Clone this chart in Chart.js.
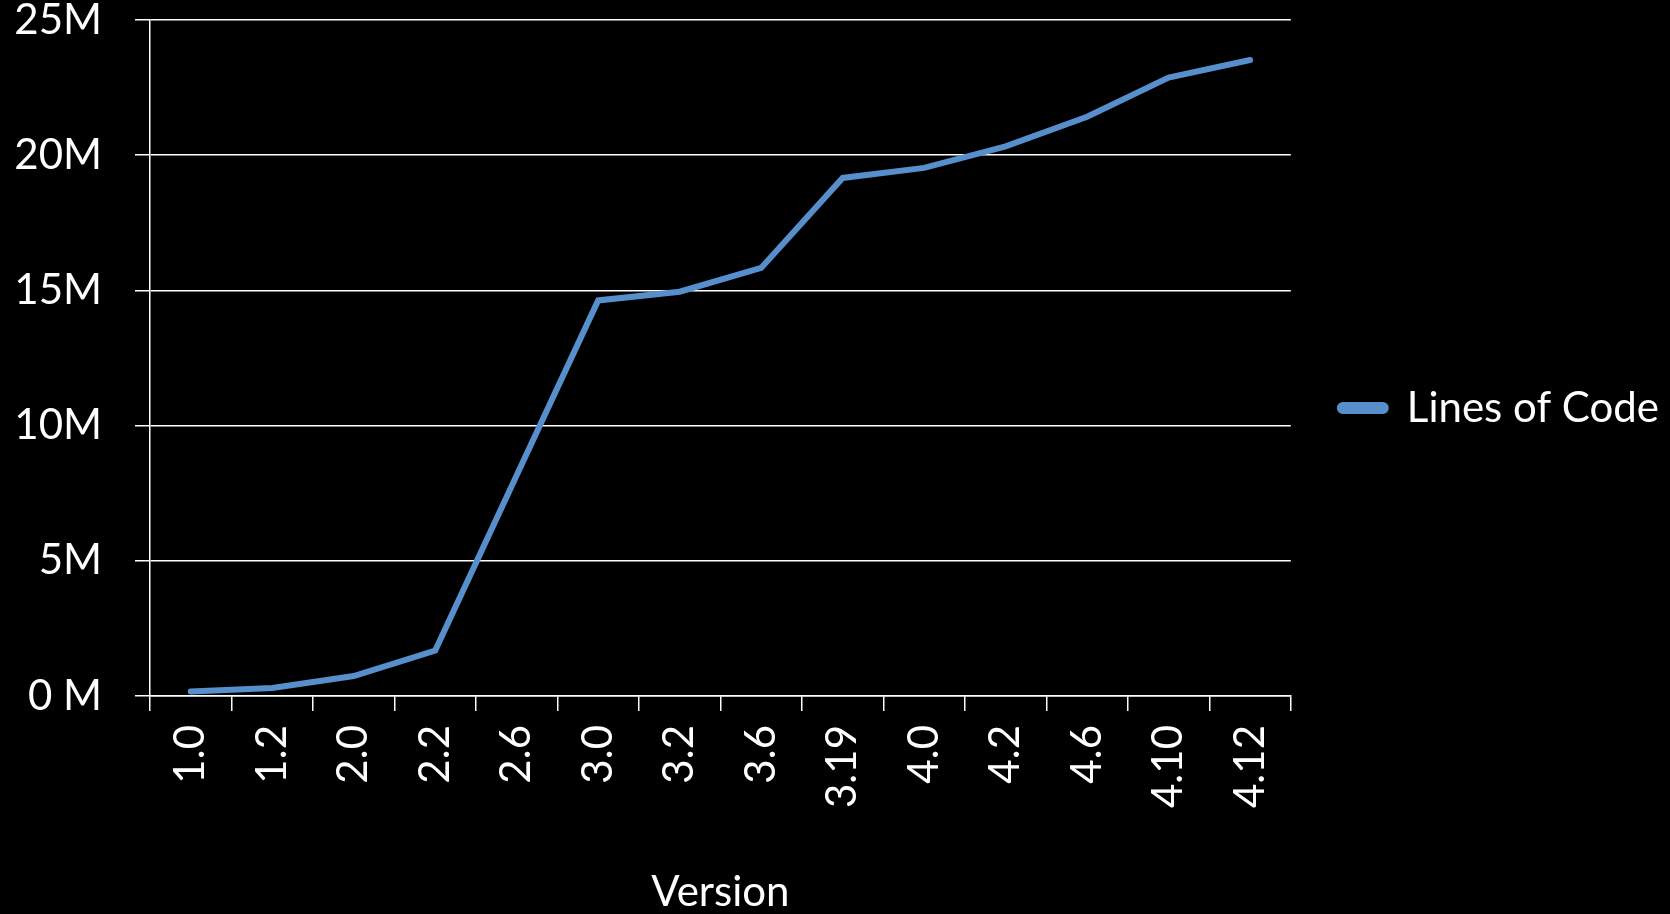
<!DOCTYPE html>
<html>
<head>
<meta charset="utf-8">
<title>Lines of Code by Version</title>
<script src="https://cdn.jsdelivr.net/npm/chart.js@4/dist/chart.umd.min.js"></script>
<style>
  html, body { margin: 0; padding: 0; background: #000; }
  #wrap { width: 1670px; height: 914px; position: relative; }
</style>
</head>
<body>
<div id="wrap"><canvas id="chart"></canvas></div>
<script>
// Release versions along the x axis
const versions = ['1.0', '1.2', '2.0', '2.2', '2.6', '3.0', '3.2', '3.6', '3.19', '4.0', '4.2', '4.6', '4.10', '4.12'];
// Lines of code per release, in millions
const linesOfCode = [0.17, 0.30, 0.74, 1.68, 8.16, 14.63, 14.95, 15.83, 19.16, 19.53, 20.33, 21.42, 22.87, 23.52];
// Value axis labels, bottom to top
const yTickLabels = ['0 M', '5M', '10M', '15M', '20M', '25M'];

const seriesName = 'Lines of Code';
const axisTitle = 'Version';
const lineColor = '#568FCC';

Chart.defaults.font.family = 'Lato, "Open Sans", sans-serif';
Chart.defaults.font.size = 42;
Chart.defaults.color = '#ffffff';

new Chart(document.getElementById('chart'), {
  type: 'line',
  data: {
    labels: versions,
    datasets: [{
      label: seriesName,
      data: linesOfCode,
      borderColor: lineColor,
      backgroundColor: lineColor,
      borderWidth: 6,
      pointRadius: 0,
      pointHoverRadius: 0,
      tension: 0,
      fill: false,
      borderCapStyle: 'round',
      borderJoinStyle: 'miter'
    }]
  },
  options: {
    responsive: true,
    maintainAspectRatio: false,
    animation: false,
    layout: { padding: { top: 0, right: 1, bottom: 0, left: 0 } },
    plugins: {
      tooltip: { enabled: false },
      legend: {
        position: 'right',
        align: 'center',
        fullSize: false,
        title: { display: true, text: '', font: { size: 10 }, padding: { top: 0, bottom: 88 } },
        labels: {
          boxWidth: 46,
          boxHeight: 6,
          useBorderRadius: true,
          borderRadius: 3,
          padding: 49,
          color: '#ffffff',
          font: { size: 42 }
        }
      }
    },
    scales: {
      x: {
        type: 'category',
        offset: true,
        afterFit: s => { s.height = 218; },
        grid: {
          offset: true,
          drawOnChartArea: false,
          drawTicks: true,
          tickLength: 15,
          color: '#ffffff',
          lineWidth: 1.5
        },
        border: { display: true, color: '#ffffff', width: 1.5 },
        ticks: {
          autoSkip: false,
          maxRotation: 90,
          minRotation: 90,
          padding: 14,
          color: '#ffffff',
          font: { size: 42 }
        },
        title: {
          display: true,
          text: axisTitle,
          color: '#ffffff',
          font: { size: 42 },
          padding: { top: 0, bottom: -4 }
        }
      },
      y: {
        min: 0,
        max: 25,
        afterFit: s => { s.width = 150; s.paddingTop = 20; },
        grid: {
          drawTicks: true,
          tickLength: 15,
          color: '#ffffff',
          lineWidth: 1.5
        },
        border: { display: true, color: '#ffffff', width: 1.5 },
        ticks: {
          stepSize: 5,
          padding: 33,
          color: '#ffffff',
          font: { size: 42 },
          callback: (value, index) => yTickLabels[index]
        }
      }
    }
  }
});
</script>
</body>
</html>
